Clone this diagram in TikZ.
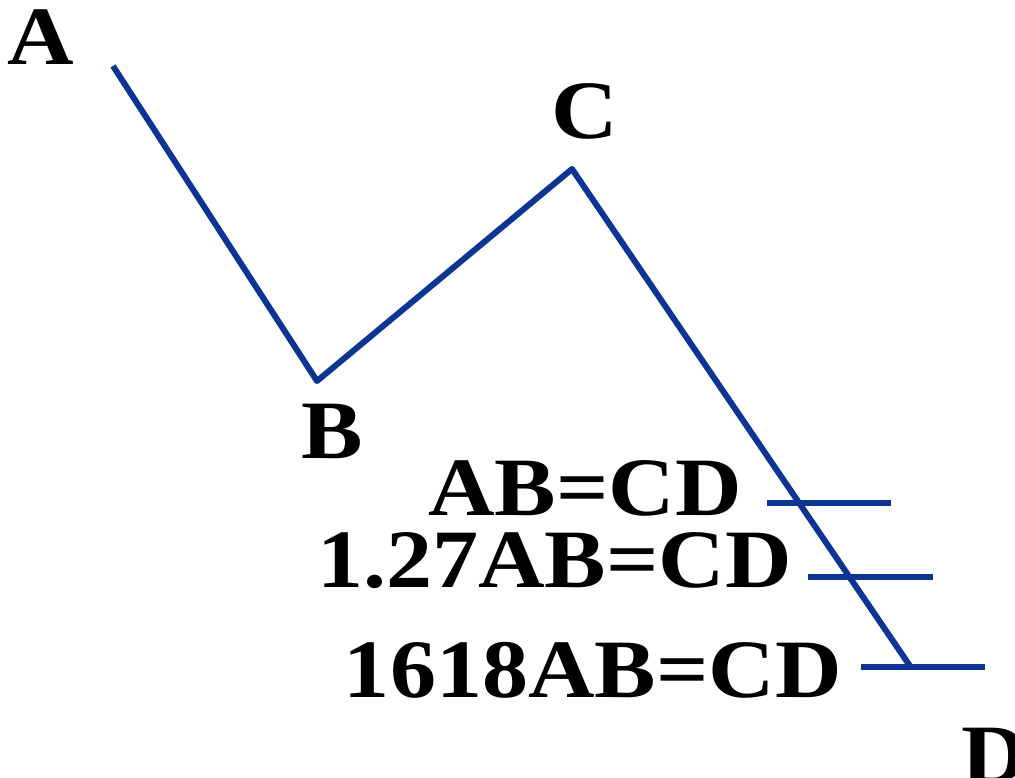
\documentclass[tikz,border=0pt]{standalone}
\usepackage{fontspec}
\setmainfont{Liberation Serif}[BoldFont={Liberation Serif Bold}]
\usetikzlibrary{positioning}
\definecolor{wavecol}{RGB}{12,52,148}
\newcommand{\widetext}[1]{\scalebox{1.11}[1]{#1}}

\begin{document}
\begin{tikzpicture}[x=1pt, y=-1pt]
    \tikzset{
        wave/.style={draw=wavecol, line width=6pt, line join=round},
        lbl/.style={inner sep=0pt, font=\fontsize{83}{83}\selectfont\bfseries}
    }
    \useasboundingbox (0,0) rectangle (1015,778);

    % Points
    \coordinate (pA) at (113,66);
    \coordinate (pB) at (317,381);
    \coordinate (pC) at (572,169);
    \coordinate (pD) at (910,666);

    % Point labels
    \node[lbl, anchor=base west] (lblA) at (7,65) {\widetext{A}};
    \node[lbl, anchor=base west] (lblB) at (301,458) {\widetext{B}};
    \node[lbl, anchor=base west] (lblC) at (551,139) {\widetext{C}};
    \node[lbl, anchor=base west] (lblD) at (961,782) {\widetext{D}};

    % Wave
    \draw[wave] (pA) -- (pB) -- (pC) -- (pD);

    % Target levels
    \node[lbl, anchor=base east] (lvl1) at (742,515) {\widetext{AB=CD}};
    \node[lbl, anchor=base east] (lvl2) at (792,587) {\widetext{1.27AB=CD}};
    \node[lbl, anchor=base east] (lvl3) at (842,697) {\widetext{1618AB=CD}};
    \coordinate (t1s) at (767,503);
    \coordinate (t1e) at (891,503);
    \coordinate (t2s) at (808,577);
    \coordinate (t2e) at (933,577);
    \coordinate (t3s) at (861,667);
    \coordinate (t3e) at (985,667);
    \foreach \i in {1,2,3}{
        \draw[wave] (t\i s) -- (t\i e);
    }
\end{tikzpicture}
\end{document}
